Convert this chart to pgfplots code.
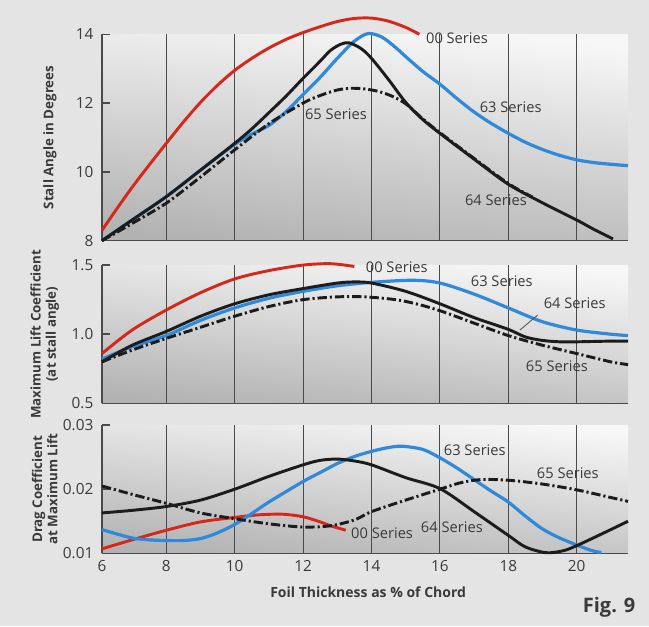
\documentclass[border=0pt]{standalone}
\usepackage{fontspec}
\setmainfont{Open Sans}
\usepackage{pgfplots}
\pgfplotsset{compat=1.18}

\definecolor{pagebg}{HTML}{E4E4E4}
\definecolor{redc}{HTML}{D5281B}
\definecolor{bluec}{HTML}{2F8ADB}
\definecolor{inkc}{HTML}{1C1C1C}
\definecolor{gridc}{HTML}{4A4A4A}
\definecolor{textc}{HTML}{3A3A3A}

\tikzset{
  lbl/.style={font=\fontsize{11}{13}\selectfont, textc},
  ylbl/.style={font=\bfseries\fontsize{10}{11.5}\selectfont, textc, rotate=90, align=center},
}

\pgfplotsset{
  panel/.style={
    scale only axis, width=394.5pt,
    xmin=6.12, xmax=21.5,
    xtick={6.12,8,10,12,14,16,18,20},
    scaled y ticks=false,
    xmajorgrids, major grid style={gridc, line width=0.8pt},
    axis x line*=bottom, axis y line*=left,
    axis line style={gridc, line width=1.1pt},
    tick align=inside, major tick length=6pt,
    xtick style={draw=none}, ytick style={gridc, line width=1.1pt},
    tick label style={font=\fontsize{11.5}{13}\selectfont, textc},
    yticklabel style={xshift=-3pt},
    xticklabel style={yshift=-2pt},
    axis background/.style={shade, top color=white!97!black, bottom color=black!30, shading angle=-6},
    clip=false,
  },
  redl/.style={redc, smooth, line width=2.2pt},
  bluel/.style={bluec, smooth, line width=2.4pt},
  inkl/.style={inkc, smooth, line width=2.2pt},
  dashl/.style={inkc, smooth, line width=2.2pt, dash pattern=on 7pt off 2.2pt on 1.6pt off 2.2pt},
}

\begin{document}
\begin{tikzpicture}
\fill[pagebg] (0,0) rectangle (486.75pt,469.5pt);

% stall angle
\begin{axis}[panel, at={(76.5pt,289pt)}, anchor=south west, height=154.8pt,
  ymin=8, ymax=14, ytick={8,10,12,14}, yticklabels={8,10,12,14}, xticklabels={}]
  \addplot[redl] coordinates {(6.12,8.3) (6.5,8.85) (7,9.55) (7.5,10.2) (8,10.83) (8.5,11.45)
    (9,12.02) (9.5,12.52) (10,12.95) (10.5,13.3) (11,13.6) (11.5,13.85) (12,14.05) (12.5,14.22)
    (13,14.37) (13.5,14.46) (14,14.47) (14.5,14.38) (15,14.2) (15.4,14.0)};
  \addplot[bluel] coordinates {(6.12,8.0) (7,8.6) (8,9.28) (9,10.05) (10,10.8) (10.5,11.1)
    (11,11.35) (11.5,11.75) (12,12.25) (12.5,12.75) (13,13.3) (13.5,13.8) (13.9,14.02)
    (14.3,13.92) (14.7,13.62) (15,13.35) (15.5,12.92) (16,12.55) (16.5,12.13) (17,11.74)
    (17.5,11.41) (18,11.12) (18.5,10.86) (19,10.65) (19.5,10.48) (20,10.35) (20.5,10.27)
    (21,10.22) (21.5,10.18)};
  \addplot[inkl] coordinates {(6.12,8.0) (7,8.6) (8,9.28) (9,10.05) (10,10.83) (10.5,11.25)
    (11,11.72) (11.5,12.2) (12,12.72) (12.5,13.22) (12.8,13.53) (13.1,13.71) (13.35,13.75)
    (13.7,13.58) (14,13.3) (14.5,12.68) (15,12.02) (15.5,11.52) (16,11.12) (17,10.37)
    (18,9.64) (19,9.1) (20,8.6) (20.5,8.33) (21.06,8.05)};
  \addplot[dashl] coordinates {(6.12,8.0) (7,8.5) (8,9.09) (9,9.85) (10,10.64) (11,11.4)
    (12,12.0) (12.5,12.22) (13,12.38) (13.4,12.43) (13.8,12.41) (14.2,12.34) (14.6,12.2)
    (15,11.98) (15.5,11.54) (16,11.14) (17,10.39) (18,9.66) (18.7,9.27)};
  \node[lbl] at (axis cs:16.5,13.89) {00 Series};
  \node[lbl] at (axis cs:18.07,11.88) {63 Series};
  \node[lbl] at (axis cs:12.96,11.68) {65 Series};
  \node[lbl] at (axis cs:17.64,9.18) {64 Series};
  \node[ylbl] at (axis description cs:-0.099,0.5) {Stall Angle in Degrees};
\end{axis}

% maximum lift coefficient
\begin{axis}[panel, at={(76.5pt,167pt)}, anchor=south west, height=103.7pt,
  ymin=0.5, ymax=1.5, ytick={0.5,1,1.5}, yticklabels={0.5,1.0,1.5}, xticklabels={}]
  \addplot[redl] coordinates {(6.12,0.86) (7,1.03) (8,1.175) (9,1.30) (10,1.40) (11,1.46)
    (12,1.50) (12.8,1.51) (13.5,1.49)};
  \addplot[bluel] coordinates {(6.12,0.82) (7,0.91) (8,0.99) (9,1.10) (10,1.19) (11,1.26)
    (12,1.31) (13,1.35) (14,1.375) (15.2,1.39) (16,1.37) (17,1.29) (18,1.19) (19,1.09)
    (20,1.03) (21,1.0) (21.5,0.99)};
  \addplot[inkl] coordinates {(6.12,0.80) (7,0.92) (8,1.02) (9,1.13) (10,1.22) (11,1.285)
    (12,1.33) (13,1.37) (13.5,1.378) (14,1.37) (15,1.31) (16,1.22) (17,1.12) (18,1.035)
    (18.5,0.98) (19,0.955) (19.5,0.945) (20,0.945) (21,0.95) (21.5,0.95)};
  \addplot[dashl] coordinates {(6.12,0.80) (7,0.885) (8,0.97) (9,1.05) (10,1.13) (11,1.20)
    (12,1.25) (13,1.27) (13.8,1.27) (14.7,1.25) (15.3,1.22) (16,1.17) (17,1.08) (18,0.99)
    (19,0.92) (20,0.86) (21,0.80) (21.5,0.78)};
  \node[lbl] at (axis cs:14.74,1.486) {00 Series};
  \node[lbl] at (axis cs:17.81,1.384) {63 Series};
  \node[lbl] at (axis cs:19.94,1.225) {64 Series};
  \node[lbl] at (axis cs:19.42,0.77) {65 Series};
  \draw[gridc, line width=0.6pt] (axis cs:18.86,1.139) -- (axis cs:18.34,1.03);
  \node[ylbl] at (axis description cs:-0.109,0.5) {Maximum Lift Coefficient\\(at stall angle)};
\end{axis}

% drag coefficient
\begin{axis}[panel, at={(76.5pt,54.5pt)}, anchor=south west, height=96.2pt,
  ymin=0.01, ymax=0.03, ytick={0.01,0.02,0.03}, yticklabels={0.01,0.02,0.03},
  xticklabels={6,8,10,12,14,16,18,20}]
  \addplot[redl] coordinates {(6.12,0.0107) (7,0.0121) (8,0.0136) (9,0.0149) (10,0.0156)
    (10.7,0.0160) (11.4,0.0161) (12,0.0157) (12.5,0.0149) (12.8,0.0143) (13.25,0.0136)};
  \addplot[bluel] coordinates {(6.12,0.0137) (6.5,0.0131) (7,0.0124) (7.5,0.0121) (8,0.0120)
    (8.5,0.0120) (9,0.0123) (9.5,0.0132) (10,0.0145) (10.5,0.0162) (11,0.0180) (12,0.0212)
    (12.5,0.0226) (13,0.0240) (13.5,0.0251) (14,0.0259) (14.5,0.0265) (14.9,0.0267)
    (15.5,0.0262) (16,0.0249) (16.5,0.0233) (17,0.0215) (17.5,0.0197) (18,0.0180)
    (18.5,0.0158) (19,0.0138) (19.5,0.0124) (20,0.0113) (20.4,0.0105) (20.72,0.0101)};
  \addplot[inkl] coordinates {(6.12,0.0163) (7,0.0167) (8,0.0173) (9,0.0183) (10,0.0200)
    (11,0.0220) (12,0.0238) (12.5,0.0245) (13,0.0247) (13.5,0.0244) (14,0.0238) (15,0.0218)
    (16,0.0201) (17,0.0165) (18,0.0128) (18.5,0.0110) (19.1,0.0101) (19.6,0.0104) (20,0.0112)
    (20.8,0.0132) (21.5,0.0150)};
  \addplot[dashl] coordinates {(6.12,0.0205) (7,0.0192) (8,0.0178) (9,0.0163) (10,0.0154)
    (11,0.0146) (12,0.0141) (12.8,0.0143) (13.5,0.0152) (14,0.0165) (15,0.0183) (16,0.0200)
    (16.6,0.0210) (17.2,0.0215) (18,0.0214) (19,0.0208) (20,0.0199) (21,0.0187) (21.5,0.0181)};
  \node[lbl] at (axis cs:17.02,0.0261) {63 Series};
  \node[lbl] at (axis cs:19.74,0.0225) {65 Series};
  \node[lbl] at (axis cs:16.35,0.0141) {64 Series};
  \node[lbl] at (axis cs:14.31,0.0132) {00 Series};
  \node[ylbl] at (axis description cs:-0.109,0.5) {Drag Coefficient\\at Maximum Lift};
  \node[font=\bfseries\fontsize{10.5}{12}\selectfont, textc] at (axis description cs:0.506,-0.302)
    {Foil Thickness as \% of Chord};
\end{axis}

\node[anchor=east, font=\bfseries\fontsize{15}{17}\selectfont, textc] at (480pt,14.25pt) {Fig. 9};
\end{tikzpicture}
\end{document}
